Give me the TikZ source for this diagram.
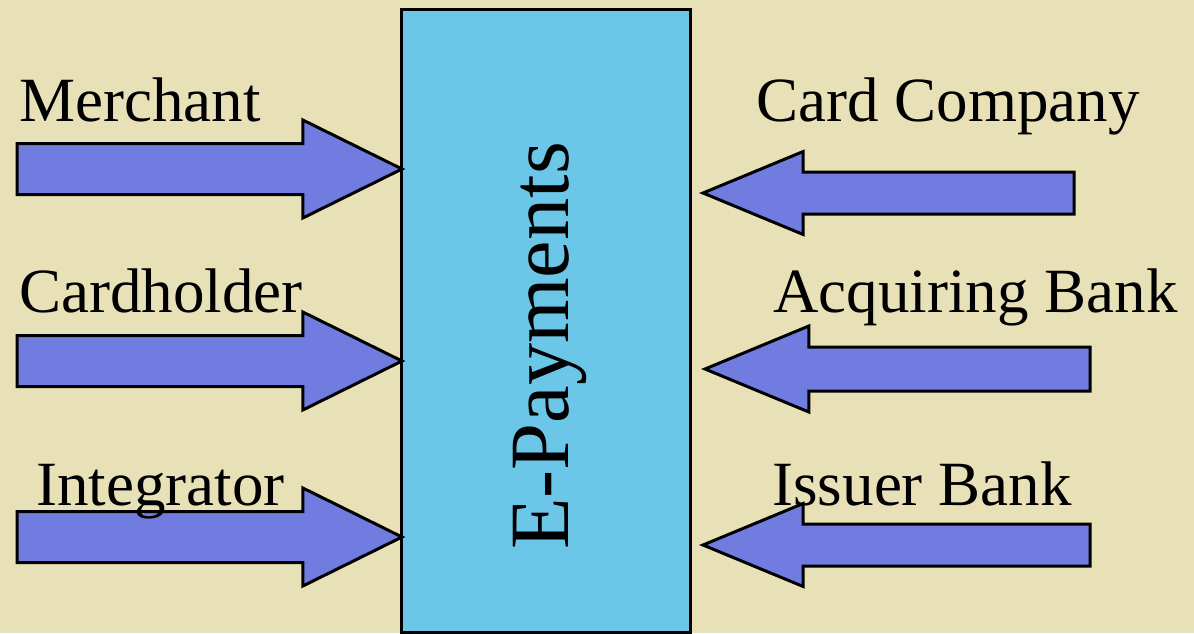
\documentclass[tikz,border=0pt]{standalone}
\usepackage{fontspec}
\setmainfont{Liberation Serif}
\usepackage{tikz}
\usetikzlibrary{shapes, arrows, positioning}

\definecolor{slidebg}{RGB}{232,225,184}
\definecolor{boxblue}{RGB}{108,198,232}
\definecolor{arrowblue}{RGB}{112,124,224}

\begin{document}
\begin{tikzpicture}[x=0.5pt, y=-0.5pt, line width=1.5pt]
        \tikzstyle{label} = [anchor=base west, inner sep=0pt, font=\fontsize{31.5}{36}\selectfont]
        \tikzstyle{inarrow} = [single arrow, draw=black, fill=arrowblue, inner xsep=0pt, outer sep=0pt, anchor=tip, line join=miter]
        \tikzstyle{fromleft} = [inarrow, inner ysep=12pt, single arrow head extend=11.75pt, single arrow tip angle=52.6, minimum height=192.5pt]
        \tikzstyle{fromright} = [inarrow, shape border rotate=180, inner ysep=9.75pt, single arrow head extend=10.25pt, single arrow tip angle=45]
        
        % background and frame
        \fill [slidebg] (0,0) rectangle (1194,633);
        \useasboundingbox (0,0) rectangle (1194,633);
        \node [rectangle, draw=black, fill=boxblue, minimum width=144.5pt, minimum height=311.5pt, inner sep=0pt, outer sep=0pt] (epay) at (545.5,320.5) {};
        \node [rotate=90, anchor=base, inner sep=0pt, font=\fontsize{42.2}{48}\selectfont] (title) at (568,346) {E-Payments};
        
        % left side
        \node [fromleft] (merchantarrow) at (402,169) {};
        \node [fromleft] (cardholderarrow) at (402,361) {};
        \node [fromleft] (integratorarrow) at (402,537) {};
        \node [label] (merchant) at (18,121) {Merchant};
        \node [label] (cardholder) at (18,312) {Cardholder};
        \node [label] (integrator) at (35,505) {Integrator};
        
        % right side
        \node [fromright, minimum height=185.5pt] (cardcoarrow) at (703,193) {};
        \node [fromright, minimum height=192.5pt, inner ysep=10.25pt, single arrow head extend=10.5pt] (acquirerarrow) at (705,369) {};
        \node [fromright, minimum height=193.5pt] (issuerarrow) at (703,545) {};
        \node [label] (cardco) at (755,121) {Card Company};
        \node [label] (acquirer) at (772,312) {Acquiring Bank};
        \node [label] (issuer) at (771,505) {Issuer Bank};
    \end{tikzpicture}
\end{document}
